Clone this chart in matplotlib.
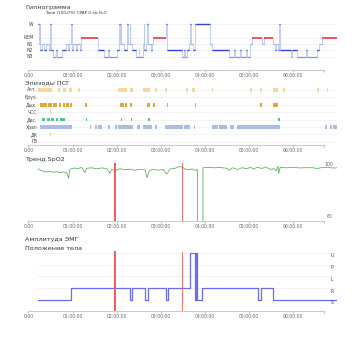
import matplotlib
matplotlib.use('Agg')
import matplotlib.pyplot as plt

# time axis (hours from start)
hour_ticks = [0, 1, 2, 3, 4, 5, 6]
hour_labels = ['0:00', '01:00:00', '02:00:00', '03:00:00', '04:00:00', '05:00:00', '06:00:00']
axis_end = 6.72
t_max = 7.01

# hypnogram: segment start times and stages (last time closes the record)
hyp_t = [0.22, 0.23, 0.26, 0.27, 0.30, 0.36, 0.40, 0.46, 0.49, 0.50, 0.55, 0.63, 0.65, 0.75,
         0.86, 0.90, 0.92, 0.96, 0.98, 1.02, 1.08, 1.11, 1.17, 1.20, 1.57, 1.72, 1.80, 1.82,
         2.00, 2.06, 2.07, 2.10, 2.11, 2.18, 2.24, 2.26, 2.30, 2.31, 2.36, 2.45, 2.50, 2.52,
         2.60, 2.62, 2.63, 2.66, 2.70, 2.71, 2.78, 2.80, 2.84, 3.13, 3.15, 3.48, 3.53, 3.55,
         3.60, 3.64, 3.68, 3.69, 3.74, 3.78, 4.13, 4.17, 4.56, 4.66, 4.70, 4.80, 4.82, 4.95,
         4.97, 5.03, 5.07, 5.30, 5.34, 5.56, 5.60, 5.62, 5.66, 5.70, 5.71, 5.97, 5.99, 6.10,
         6.30, 6.32, 6.55, 6.59, 6.66, 7.01]
hyp_stage = ['W', 'N1', 'W', 'N2', 'N1', 'N2', 'N1', 'N2', 'W', 'N2', 'N3', 'N2', 'N3', 'N2',
             'N1', 'N2', 'N1', 'W', 'N2', 'N1', 'N2', 'N1', 'N2', 'REM', 'N2', 'N3', 'N2', 'N3',
             'N2', 'W', 'N1', 'W', 'N1', 'N2', 'W', 'N1', 'W', 'N1', 'N2', 'N3', 'N2', 'N3',
             'N1', 'W', 'N2', 'N1', 'W', 'N1', 'N2', 'N1', 'REM', 'W', 'N2', 'N3', 'N2', 'N3',
             'N2', 'N1', 'W', 'N1', 'N2', 'W', 'N1', 'N2', 'N3', 'N2', 'N3', 'N2', 'N3', 'N2',
             'N3', 'N1', 'REM', 'N1', 'REM', 'N1', 'N2', 'N1', 'N2', 'W', 'N2', 'N3', 'N2', 'N3',
             'N2', 'N3', 'N2', 'N1', 'REM']
stage_names = ['W', 'REM', 'N1', 'N2', 'N3']

# PSG episodes: (start, end) in hours per row
ep_rows = ['Акт.', 'Брух.', 'Дых.', 'ЧСС', 'Дес.', 'Храп', 'ДК', 'ГВ']
ep_act = [(0.22, 0.53), (0.68, 0.72), (0.79, 0.85), (0.91, 0.98), (1.13, 1.17), (2.04, 2.23),
          (2.31, 2.38), (2.61, 2.76), (2.87, 2.91), (3.10, 3.14), (3.59, 3.63), (3.71, 3.78),
          (4.16, 4.20), (5.03, 5.07), (5.26, 5.30), (5.56, 5.68), (5.79, 5.83), (6.55, 6.59),
          (6.78, 6.81)]
ep_brux = []
ep_resp = [(0.25, 0.41), (0.45, 0.53), (0.55, 0.64), (0.70, 0.73), (0.78, 0.84), (0.86, 0.93),
           (0.94, 0.98), (1.28, 1.32), (2.08, 2.18), (2.19, 2.23), (2.31, 2.35), (2.69, 2.76),
           (2.84, 2.87), (3.14, 3.16), (3.78, 3.81), (5.26, 5.30), (5.55, 5.68)]
ep_hr = [(0.49, 0.51)]
ep_desat = [(0.30, 0.37), (0.41, 0.49), (0.50, 0.58), (0.62, 0.68), (0.72, 0.78), (0.79, 0.84),
            (1.31, 1.33), (2.10, 2.13), (2.32, 2.35), (2.72, 2.75), (5.68, 5.71)]
ep_snore = [(0.25, 0.98), (1.40, 1.42), (1.51, 1.56), (1.58, 1.66), (1.81, 1.85), (1.97, 2.00),
            (2.04, 2.38), (2.46, 2.53), (2.61, 2.80), (2.87, 2.91), (3.10, 3.52), (3.54, 3.67),
            (3.75, 3.78), (4.16, 4.30), (4.33, 4.50), (4.58, 4.66), (4.73, 5.72), (6.74, 6.78),
            (6.85, 6.90), (6.93, 7.00)]
ep_dk = [(0.49, 0.51)]
ep_gv = []

# SpO2 trend
spo2_t = [0.22, 0.26, 0.34, 0.41, 0.49, 0.56, 0.64, 0.72, 0.79, 0.87, 0.91, 0.94, 1.02, 1.13,
          1.21, 1.28, 1.32, 1.44, 1.55, 1.66, 1.78, 1.85, 1.89, 1.97, 2.08, 2.19, 2.31, 2.42,
          2.53, 2.65, 2.69, 2.75, 2.84, 2.95, 3.06, 3.14, 3.22, 3.33, 3.41, 3.49, 3.56, 3.64,
          3.72, 3.79, 3.84, 3.845, 3.96, 3.965, 4.06, 4.21, 4.36, 4.51, 4.57, 4.63, 4.75, 4.85,
          4.97, 5.04, 5.12, 5.19, 5.31, 5.38, 5.50, 5.57, 5.63, 5.67, 5.685, 5.72, 5.87, 6.03,
          6.18, 6.33, 6.48, 6.56, 6.63, 6.78, 6.94, 7.01]
spo2_v = [97.3, 96.5, 95.5, 95.0, 95.3, 94.8, 95.2, 94.6, 95.0, 94.3, 90.5, 96.8, 97.8, 97.5,
          98.2, 94.5, 97.6, 98.0, 97.2, 97.9, 97.4, 94.0, 97.0, 96.0, 97.3, 96.6, 97.0, 96.2,
          96.8, 96.5, 91.0, 96.0, 96.9, 96.3, 96.8, 93.5, 97.2, 97.6, 98.8, 98.5, 97.0, 96.5,
          97.2, 96.0, 96.8, 0.0, 0.0, 98.0, 98.3, 98.0, 98.2, 97.6, 96.2, 98.0, 96.8, 98.0,
          97.3, 98.4, 97.0, 98.3, 97.5, 98.6, 96.8, 97.5, 95.8, 99.2, 94.0, 98.2, 98.0, 98.2,
          97.9, 98.1, 98.0, 97.2, 98.0, 98.3, 97.8, 98.0]
red_marks = [1.97, 3.49]

# body position (S=0, R=1, L=2, P=3, U=4)
pos_names = ['S', 'R', 'L', 'P', 'U']
pos_t = [0.22, 0.97, 2.31, 2.35, 2.65, 2.72, 3.12, 3.16, 3.68, 3.78, 3.80, 3.83, 3.86, 3.95,
         5.22, 5.29, 5.55, 7.01]
pos_v = [0, 1, 0, 1, 0, 1, 0, 1, 4, 0, 4, 0, 0, 1, 0, 1, 0, 0]

W, H = 354, 354
fig = plt.figure(figsize=(W / 100, H / 100), dpi=100)
x0, x1 = 28.5, 337
tick_col = '#666666'
grid_col = '#eeeeee'


def panel(top, bottom):
    ax = fig.add_axes([x0 / W, 1 - bottom / H, (x1 - x0) / W, (bottom - top) / H])
    ax.set_xlim(0, t_max)
    for s in ax.spines.values():
        s.set_visible(False)
    ax.set_yticks([])
    ax.set_xticks(hour_ticks + [axis_end])
    ax.set_xticklabels(hour_labels + [''])
    ax.tick_params(axis='x', length=1.5, width=0.5, pad=1, labelsize=3.3,
                   colors='#999999', labelcolor=tick_col)
    ax.plot([0, axis_end], [0, 0], transform=ax.get_xaxis_transform(),
            color='#cccccc', lw=0.8, clip_on=False)
    return ax


def title(y, text, x=25, size=4.6):
    fig.text(x / W, 1 - y / H, text, fontsize=size, color='#333333', va='center', ha='left')


# --- hypnogram
title(7, 'Гипнограмма')
title(13, 'Тани (100,0%) CPAP 0 см H₂O', x=45, size=3)
ax = panel(20, 70)
ax.set_ylim(0, 50)
levels = {'W': 46, 'REM': 32.3, 'N1': 26, 'N2': 20, 'N3': 13.5}
seg_col = {'W': '#2f3fe6', 'REM': '#f0505a', 'N1': '#9fb3ef', 'N2': '#2f3fe6', 'N3': '#7d8ce8'}
seg_lw = {'W': 1.0, 'REM': 1.4, 'N1': 0.9, 'N2': 1.0, 'N3': 0.9}
for name in stage_names:
    ax.axhline(levels[name], xmin=0.2 / t_max, color=grid_col, lw=0.5, zorder=0)
    ax.text(0.11, levels[name], name, fontsize=3.3, color='#444444', ha='right', va='center')
for i, st in enumerate(hyp_stage):
    if i > 0:
        ax.plot([hyp_t[i], hyp_t[i]], [levels[hyp_stage[i - 1]], levels[st]],
                color='#b9c8f2', lw=0.6, zorder=1)
    ax.plot([hyp_t[i], hyp_t[i + 1]], [levels[st], levels[st]],
            color=seg_col[st], lw=seg_lw[st], zorder=2, solid_capstyle='butt')

# --- PSG episodes
title(83, 'Эпизоды ПСГ')
ax = panel(86, 145)
ax.set_ylim(7.43, -0.54)
ep_data = [ep_act, ep_brux, ep_resp, ep_hr, ep_desat, ep_snore, ep_dk, ep_gv]
ep_col = ['#f4d7a0', '#f4d7a0', '#e5a633', '#f7c4c4', '#52c59b', '#a9bee2', '#f3c891', '#cccccc']
for i, (name, spans) in enumerate(zip(ep_rows, ep_data)):
    ax.axhline(i, xmin=0.2 / t_max, color=grid_col, lw=0.5, zorder=0)
    ax.text(0.2, i, name, fontsize=3.3, color='#444444', ha='right', va='center')
    if spans:
        ax.broken_barh([(a, b - a) for a, b in spans], (i - 0.25, 0.5), color=ep_col[i], lw=0)

# --- SpO2 trend
title(159, 'Тренд SpO2')
ax = panel(163, 221)
ax.set_ylim(60, 101.4)
ax.plot(spo2_t, spo2_v, color='#5cb85c', lw=0.6)
for m, lw in zip(red_marks, [1.4, 0.6]):
    ax.axvline(m, color='#f05a5a', lw=lw)
ax.text(6.83, 100, '100', fontsize=3.3, color=tick_col, ha='center', va='center')
ax.text(6.85, 63, '60', fontsize=3.3, color=tick_col, ha='center', va='center')

# --- EMG amplitude (empty)
title(239, 'Амплитуда ЭМГ')

# --- body position
title(249, 'Положение тела')
ax = panel(250, 311)
ax.set_ylim(-0.93, 4.24)
for k, name in enumerate(pos_names):
    if k > 0:
        ax.axhline(k, xmin=0.2 / t_max, color=grid_col, lw=0.5, zorder=0)
    ax.text(6.9, k - 0.25, name, fontsize=3.3, color='#444444', ha='center', va='center')
ax.step(pos_t, pos_v, where='post', color='#6a6cf5', lw=0.9)
for m, lw in zip(red_marks, [1.4, 0.6]):
    ax.axvline(m, ymin=0, ymax=0.967, color='#f05a5a', lw=lw)

fig.savefig('out.png', dpi=100)
